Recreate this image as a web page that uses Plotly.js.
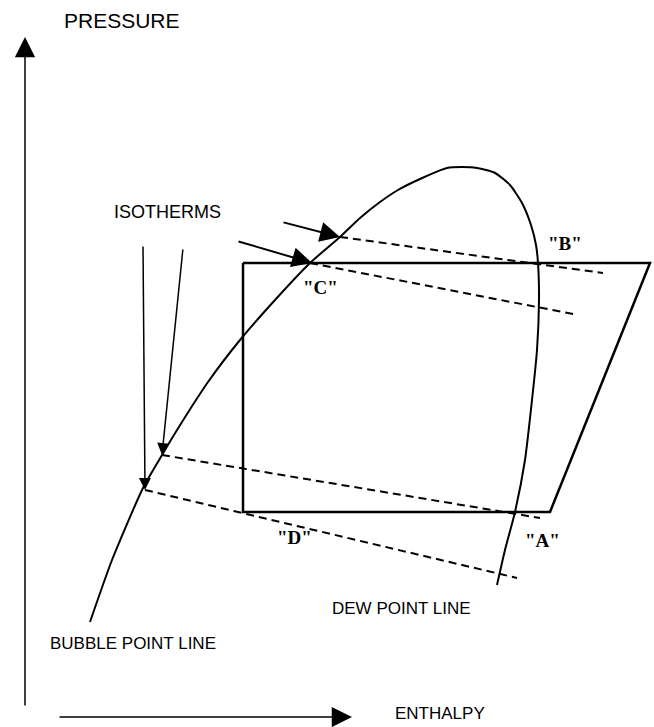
<!DOCTYPE html>
<html>
<head>
<meta charset="utf-8">
<script src="https://cdn.plot.ly/plotly-3.0.1.min.js"></script>
<style>
  html, body {margin:0; padding:0; background:#fff;}
  #chart {width:654px; height:727px;}
</style>
</head>
<body>
<div id="chart"></div>
<script>
// schematic p-h diagram, enthalpy / pressure in arbitrary units
// bubble point line -> top of dome -> dew point line
const domeH = [90,112,143,162,182,208,240,275,310,340,360,380,398,420,447,462,477,495,510,522,531,536,538,539,537,532,525,515,505,497];
const domeP = [105,167,239,272,305,345,387,427,464,490,509,525,537,548,559,560,559,554,542,524,502,482,464,427,377,327,267,215,177,142];

// cycle B -> (right) -> A -> D -> C
const cycleH = [243,650,550,243,243];
const cycleP = [464,464,215,215,464];

// isotherms: start on bubble line, end past dew line
const isoStartH = [340,310,162,145];
const isoStartP = [490,464,272,237];
const isoEndH = [603,578,540,517];
const isoEndP = [454,412,209,149];

// pointer arrows to the isotherm crossings (tail -> head)
const ptrTailH = [282,237,143,183];
const ptrTailP = [505,486,482,479];
const ptrHeadH = [340,312,145,162];
const ptrHeadP = [490,464,237,272];

const stateNames = ['"C"','"B"','"D"','"A"'];
const stateH = [320,565,294,542];
const stateP = [440,484,190,187];

const labelText = ['PRESSURE','ISOTHERMS','DEW POINT LINE','BUBBLE POINT LINE','ENTHALPY'];
const labelH = [62,112,330,48,393];
const labelP = [707,515,119,84,14];
const labelSize = [21,18,17,17,17];

var traces = [];
traces.push({x:domeH, y:domeP, type:'scatter', mode:'lines',
    line:{color:'#000', width:2, shape:'spline', smoothing:0.6}, hoverinfo:'skip'});
traces.push({x:cycleH, y:cycleP, type:'scatter', mode:'lines',
    line:{color:'#000', width:2.5}, hoverinfo:'skip'});
for (let i=0; i<isoStartH.length; ++i){
    traces.push({x:[isoStartH[i], isoEndH[i]], y:[isoStartP[i], isoEndP[i]], type:'scatter', mode:'lines',
        line:{color:'#000', width:2, dash:'8px,5px'}, hoverinfo:'skip'});
}

var annotations = [];
// axis arrows
annotations.push({x:25, y:690, ax:25, ay:20, xref:'x', yref:'y', axref:'x', ayref:'y', text:'',
    showarrow:true, arrowhead:2, arrowsize:2.7, arrowwidth:1.5, arrowcolor:'#000'});
annotations.push({x:352, y:10, ax:58, ay:10, xref:'x', yref:'y', axref:'x', ayref:'y', text:'',
    showarrow:true, arrowhead:2, arrowsize:2.7, arrowwidth:1.5, arrowcolor:'#000'});
for (let i=0; i<ptrTailH.length; ++i){
    let diag = i<2;
    annotations.push({x:ptrHeadH[i], y:ptrHeadP[i], ax:ptrTailH[i], ay:ptrTailP[i],
        xref:'x', yref:'y', axref:'x', ayref:'y', text:'', showarrow:true,
        arrowhead:2, arrowsize: diag ? 2 : 1.6, arrowwidth: diag ? 2 : 1.5, arrowcolor:'#000'});
}
for (let i=0; i<stateNames.length; ++i){
    annotations.push({x:stateH[i], y:stateP[i], xref:'x', yref:'y', text:stateNames[i], showarrow:false,
        xanchor:'center', yanchor:'middle',
        font:{family:'Liberation Serif, Times New Roman, serif', size:19, color:'#000', weight:'bold'}});
}
for (let i=0; i<labelText.length; ++i){
    annotations.push({x:labelH[i], y:labelP[i], xref:'x', yref:'y', text:labelText[i], showarrow:false,
        xanchor:'left', yanchor:'middle',
        font:{family:'Liberation Sans, Arial, sans-serif', size:labelSize[i], color:'#000'}});
}

var layout = {
    width:654, height:727,
    margin:{l:0, r:0, t:0, b:0, pad:0},
    paper_bgcolor:'#fff', plot_bgcolor:'#fff',
    showlegend:false,
    xaxis:{range:[0,654], visible:false, fixedrange:true},
    yaxis:{range:[0,727], visible:false, fixedrange:true},
    annotations:annotations
};

Plotly.newPlot('chart', traces, layout, {staticPlot:true});
</script>
</body>
</html>
